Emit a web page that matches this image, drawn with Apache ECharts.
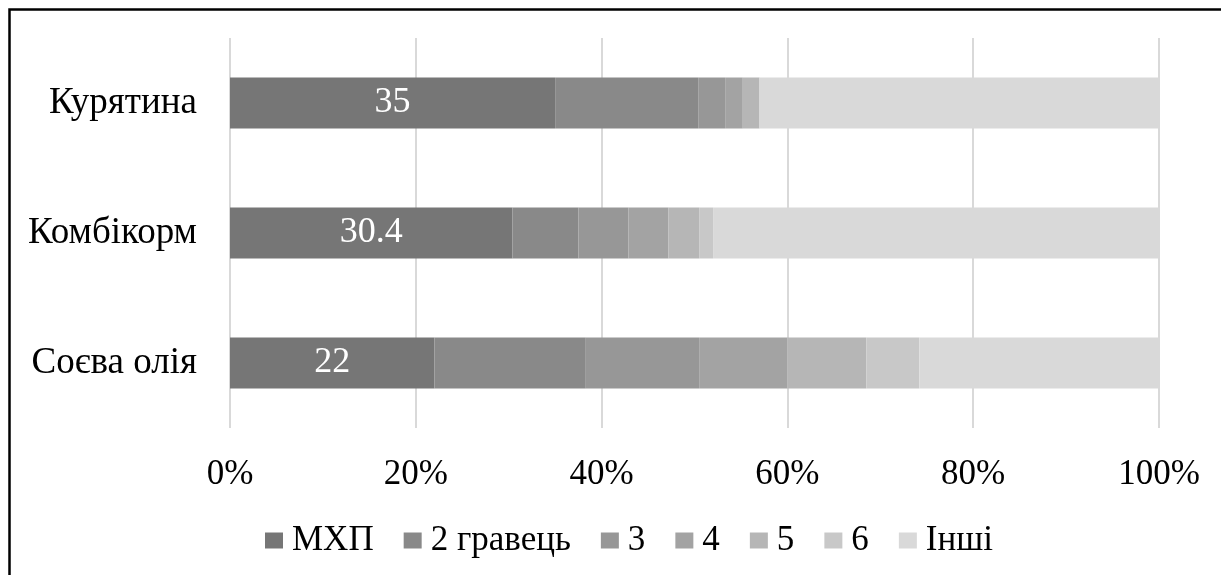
<!DOCTYPE html>
<html>
<head>
<meta charset="utf-8">
<script src="https://cdn.jsdelivr.net/npm/echarts@6/dist/echarts.min.js"></script>
<style>
  html, body { margin: 0; padding: 0; background: #fff; }
  #chart { width: 1221px; height: 575px; }
</style>
</head>
<body>
<div id="chart"></div>
<script>
// Market share by producer, percent of each product
const categories = ['Соєва олія', 'Комбікорм', 'Курятина'];
const seriesNames = ['МХП', '2 гравець', '3', '4', '5', '6', 'Інші'];
const shareMHP   = [22.0, 30.4, 35.0];
const shareSecond = [16.3, 7.1, 15.4];
const shareThird  = [12.2, 5.4, 2.9];
const shareFourth = [9.5, 4.3, 1.9];
const shareFifth  = [8.5, 3.3, 1.8];
const shareSixth  = [5.7, 1.5, 0.0];
const shareOther  = [25.8, 48.0, 43.0];
const xTicks = [0, 20, 40, 60, 80, 100];

const values = [shareMHP, shareSecond, shareThird, shareFourth, shareFifth, shareSixth, shareOther];
const colors = ['#767676', '#898989', '#979797', '#a3a3a3', '#b6b6b6', '#c8c8c8', '#d9d9d9'];
const font = '"Liberation Serif", "Times New Roman", serif';

const chart = echarts.init(document.getElementById('chart'), null, { renderer: 'canvas' });

const series = seriesNames.map((name, i) => ({
  name: name,
  type: 'bar',
  stack: 'total',
  barWidth: 51,
  data: values[i],
  itemStyle: { color: colors[i] },
  label: i === 0 ? {
    show: true,
    position: 'inside',
    color: '#ffffff',
    fontFamily: font,
    fontSize: 36,
    formatter: p => String(p.value)
  } : { show: false },
  emphasis: { disabled: true }
}));

chart.setOption({
  animation: false,
  textStyle: { fontFamily: font },
  graphic: [{
    type: 'rect',
    shape: { x: 9.5, y: 9.5, width: 2000, height: 2000 },
    style: { fill: 'none', stroke: '#000', lineWidth: 2.5 },
    silent: true
  }],
  legend: {
    data: seriesNames,
    left: 260,
    top: 518,
    itemWidth: 18,
    itemHeight: 16,
    itemGap: 30,
    icon: 'rect',
    textStyle: { fontFamily: font, fontSize: 35, color: '#000', padding: [12, 0, 0, 4] }
  },
  grid: { left: 230, right: 62, top: 38, bottom: 147, containLabel: false },
  xAxis: {
    type: 'value',
    min: xTicks[0],
    max: xTicks[xTicks.length - 1],
    interval: 20,
    axisLine: { show: false },
    axisTick: { show: false },
    splitLine: { show: true, lineStyle: { color: '#d9d9d9', width: 2 } },
    axisLabel: {
      color: '#000',
      fontFamily: font,
      fontSize: 35,
      margin: 29,
      formatter: v => v + '%'
    }
  },
  yAxis: {
    type: 'category',
    data: categories,
    axisLine: { show: false },
    axisTick: { show: false },
    axisLabel: { color: '#000', fontFamily: font, fontSize: 37, margin: 33 }
  },
  series: series
});
</script>
</body>
</html>
